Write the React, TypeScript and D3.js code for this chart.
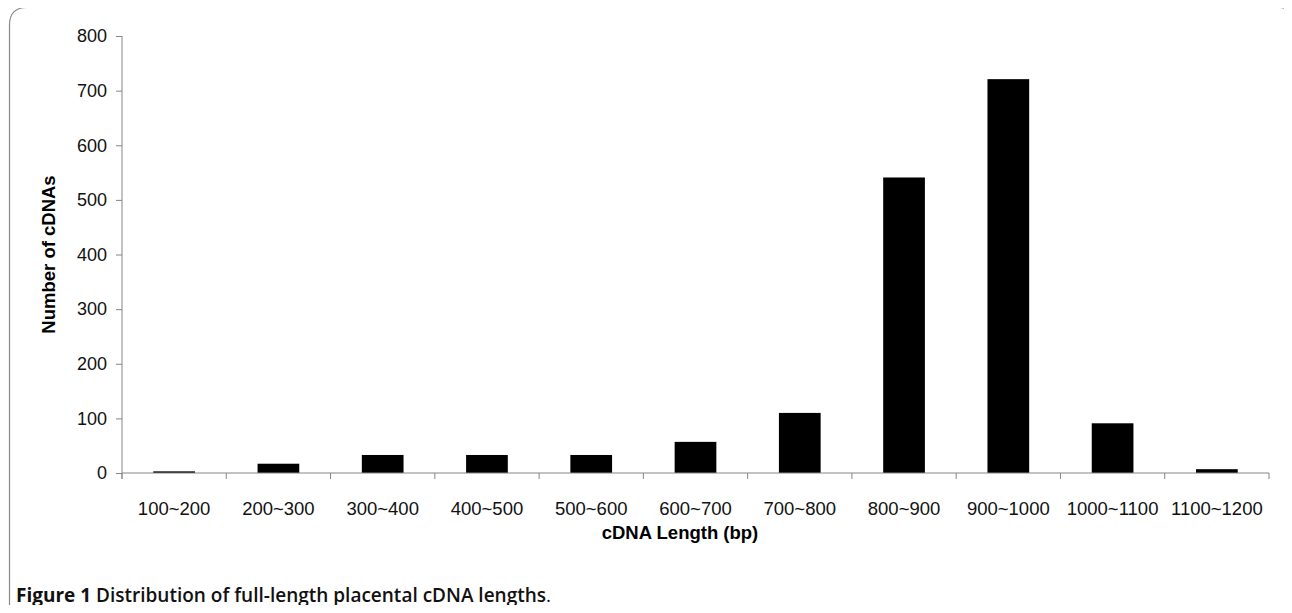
import * as d3 from 'd3';
import { useRef, useEffect } from 'react';

// cDNA length bins and counts
const categories: string[] = [
  '100~200', '200~300', '300~400', '400~500', '500~600', '600~700',
  '700~800', '800~900', '900~1000', '1000~1100', '1100~1200',
];
const counts: number[] = [3, 17, 33, 33, 33, 57, 110, 541, 721, 91, 7];
const yTicks: number[] = [0, 100, 200, 300, 400, 500, 600, 700, 800];

const W = 1292;
const H = 613;

const App = () => {
  const ref: any = useRef();

  useEffect(() => {
    const svg = d3.select(ref.current);
    svg.selectAll('*').remove();

    const left = 122, right = 1269, top = 36, bottom = 473;
    const axisColor = '#868686';
    const font = '"Liberation Sans", Arial, sans-serif';

    // frame around the figure
    svg.append('path')
      .attr('d', 'M9.5,603 L9.5,25 Q9.5,7.5 27,7.5 L1280,7.5 Q1288.5,7.5 1288.5,16 L1288.5,613 M9.5,603 Q9.5,610 13,613')
      .attr('fill', 'none')
      .attr('stroke', '#8a8a8a')
      .attr('stroke-width', 1.2);

    const x = d3.scaleBand()
      .domain(categories)
      .range([left, right])
      .paddingInner(0.6)
      .paddingOuter(0.3);

    const y = d3.scaleLinear()
      .domain([0, 800])
      .range([bottom, top]);

    // bars
    svg.append('g')
      .selectAll('rect')
      .data(counts)
      .enter()
      .append('rect')
      .attr('x', (d, i) => x(categories[i]) as number)
      .attr('y', d => y(d))
      .attr('width', x.bandwidth())
      .attr('height', d => bottom - y(d))
      .attr('fill', '#000');

    // y axis
    const yAxis = svg.append('g').attr('transform', 'translate(' + left + ',0)');
    yAxis.call(d3.axisLeft(y).tickValues(yTicks).tickSize(6).tickPadding(9));
    yAxis.select('.domain').attr('stroke', axisColor).attr('d', 'M0,' + top + 'V' + (bottom + 6));
    yAxis.selectAll('.tick line').attr('stroke', axisColor);
    yAxis.selectAll('.tick text')
      .attr('font-family', font)
      .attr('font-size', 18)
      .attr('fill', '#111');

    // x axis: line plus boundary ticks
    const step = x.step();
    const xAxis = svg.append('g');
    xAxis.append('line')
      .attr('x1', left).attr('x2', right)
      .attr('y1', bottom).attr('y2', bottom)
      .attr('stroke', axisColor);
    xAxis.selectAll('line.tk')
      .data(d3.range(categories.length + 1))
      .enter()
      .append('line')
      .attr('class', 'tk')
      .attr('x1', i => left + i * step).attr('x2', i => left + i * step)
      .attr('y1', bottom).attr('y2', bottom + 6)
      .attr('stroke', axisColor);
    xAxis.selectAll('text')
      .data(categories)
      .enter()
      .append('text')
      .attr('x', d => (x(d) as number) + x.bandwidth() / 2)
      .attr('y', bottom + 42)
      .attr('text-anchor', 'middle')
      .attr('font-family', font)
      .attr('font-size', 18.5)
      .attr('fill', '#111')
      .text(d => d);

    // axis titles
    svg.append('text')
      .attr('x', 680)
      .attr('y', 539)
      .attr('text-anchor', 'middle')
      .attr('font-family', font)
      .attr('font-weight', 'bold')
      .attr('font-size', 18.5)
      .text('cDNA Length (bp)');

    svg.append('text')
      .attr('transform', 'translate(55,' + (top + bottom) / 2 + ') rotate(-90)')
      .attr('text-anchor', 'middle')
      .attr('font-family', font)
      .attr('font-weight', 'bold')
      .attr('font-size', 18.5)
      .text('Number of cDNAs');

    // caption
    const cap = svg.append('text')
      .attr('x', 16)
      .attr('y', 602)
      .attr('font-family', '"Open Sans", "Noto Sans", sans-serif')
      .attr('font-size', 19)
      .attr('fill', '#111');
    cap.append('tspan').attr('font-weight', 'bold').text('Figure 1');
    cap.append('tspan').attr('font-weight', 600).text(' Distribution of full-length placental cDNA lengths');
    cap.append('tspan').text('.');
  }, []);

  return (
    <div className="chart" style={{ margin: -8 }}>
      <svg ref={ref} width={W} height={H} style={{ display: 'block', background: '#fff' }}></svg>
    </div>
  );
};

export default App;
